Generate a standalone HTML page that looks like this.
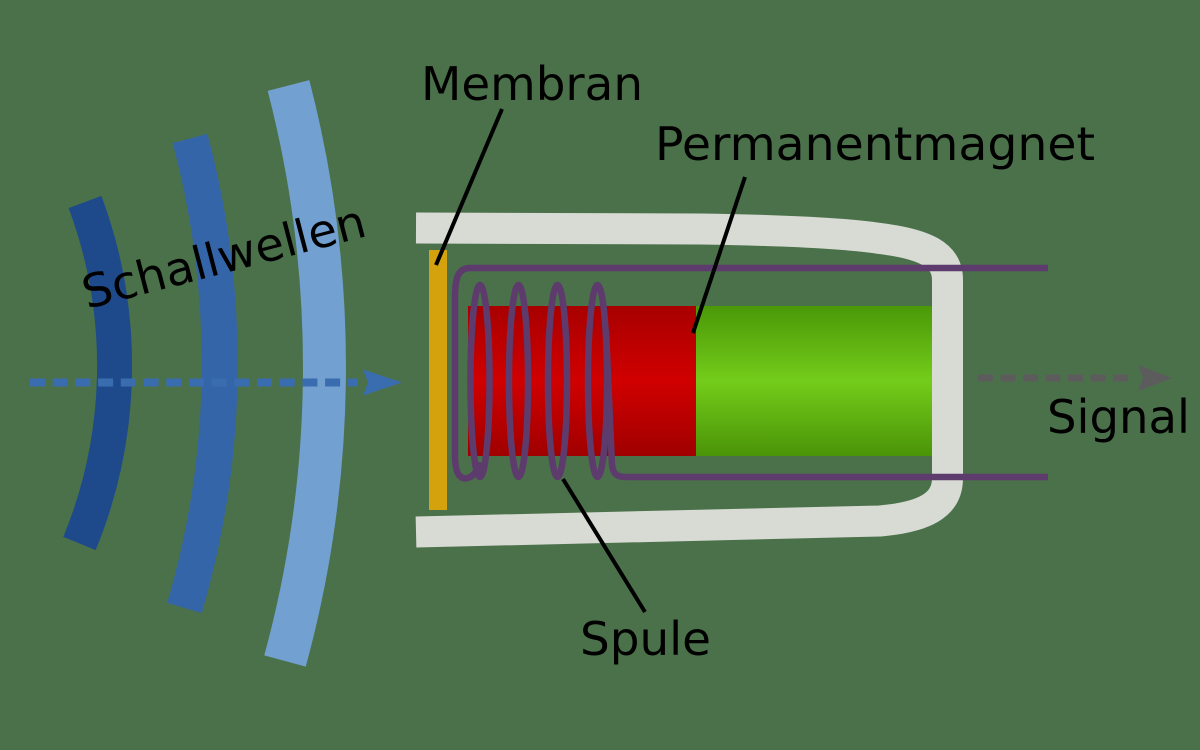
<!DOCTYPE html>
<html>
<head>
<meta charset="utf-8">
<style>
  html,body{margin:0;padding:0;background:#4b714b;}
  svg{display:block;}
  text{font-family:"DejaVu Sans","Liberation Sans",sans-serif;font-size:46px;fill:#000;}
</style>
</head>
<body>
<svg width="1200" height="750" viewBox="0 0 1200 750" xmlns="http://www.w3.org/2000/svg">
  <defs>
    <linearGradient id="red" x1="0" y1="0" x2="0" y2="1">
      <stop offset="0" stop-color="#a80000"/>
      <stop offset="0.5" stop-color="#d00000"/>
      <stop offset="1" stop-color="#a00000"/>
    </linearGradient>
    <linearGradient id="green" x1="0" y1="0" x2="0" y2="1">
      <stop offset="0" stop-color="#4a9808"/>
      <stop offset="0.5" stop-color="#74cc1a"/>
      <stop offset="1" stop-color="#4a9408"/>
    </linearGradient>
  </defs>
  <rect x="0" y="0" width="1200" height="750" fill="#4b714b"/>

  <!-- sound waves -->
  <path d="M 85 202 A 468 468 0 0 1 79.5 543.5" fill="none" stroke="#1e4a8c" stroke-width="35"/>
  <path d="M 190 138.5 A 866 866 0 0 1 184.5 608" fill="none" stroke="#3465a8" stroke-width="36"/>
  <path d="M 288.5 85.5 A 1117 1117 0 0 1 285 661" fill="none" stroke="#72a0d0" stroke-width="43"/>

  <!-- blue dashed arrow -->
  <line x1="30" y1="382.5" x2="358" y2="382.5" stroke="#3a6cb0" stroke-width="8" stroke-dasharray="15 7.7" stroke-linecap="butt"/>
  <polygon points="363,369.5 402,382.5 363,395.5 368,382.5" fill="#3a6cb0"/>

  <!-- magnet -->
  <rect x="468" y="306" width="228" height="150" fill="url(#red)"/>
  <rect x="696" y="306" width="236" height="150" fill="url(#green)"/>

  <!-- housing -->
  <path d="M 416 228 L 700 229 Q 830 231 880 238.5 C 925 244 947.5 255 947.5 280 L 947.5 478 C 947.5 505 925 517 880 521 L 416 532"
        fill="none" stroke="#d8dbd3" stroke-width="31" stroke-linejoin="round"/>

  <!-- membrane -->
  <rect x="429" y="250" width="18" height="260" fill="#d4a20c"/>

  <!-- coil -->
  <g fill="none" stroke="#5d3b6c" stroke-width="6.5">
    <path d="M 1048 268 L 470 268 C 458 268 455 278 455 298 L 455 455 C 455 474 460 480 468 478 C 474 476 478 470 479 462"/>
    <ellipse cx="480" cy="381" rx="9.5" ry="96"/>
    <ellipse cx="518.5" cy="381" rx="9.5" ry="96"/>
    <ellipse cx="557.5" cy="381" rx="9.5" ry="96"/>
    <ellipse cx="597.5" cy="381" rx="9.5" ry="96"/>
    <path d="M 606 330 L 612 465 C 613 474 617 477 626 477 L 1048 477"/>
  </g>

  <!-- signal arrow -->
  <line x1="978" y1="378" x2="1134" y2="378" stroke="#5c5c5c" stroke-width="7" stroke-dasharray="15 7.5"/>
  <polygon points="1138,365 1172,378 1138,391 1143,378" fill="#5c5c5c"/>

  <!-- leader lines -->
  <g stroke="#000" stroke-width="4" stroke-linecap="butt">
    <line x1="502" y1="109" x2="436" y2="265"/>
    <line x1="745" y1="177" x2="693" y2="333"/>
    <line x1="563" y1="479" x2="645" y2="612"/>
  </g>

  <!-- labels -->
  <text x="421" y="100" textLength="222" lengthAdjust="spacingAndGlyphs">Membran</text>
  <text x="655" y="160" textLength="440" lengthAdjust="spacingAndGlyphs">Permanentmagnet</text>
  <text x="580" y="655" textLength="131" lengthAdjust="spacingAndGlyphs">Spule</text>
  <text x="1047" y="433" textLength="143" lengthAdjust="spacingAndGlyphs">Signal</text>
  <text x="87" y="309" transform="rotate(-14.6 87 309)" textLength="291" lengthAdjust="spacingAndGlyphs">Schallwellen</text>
</svg>
</body>
</html>
